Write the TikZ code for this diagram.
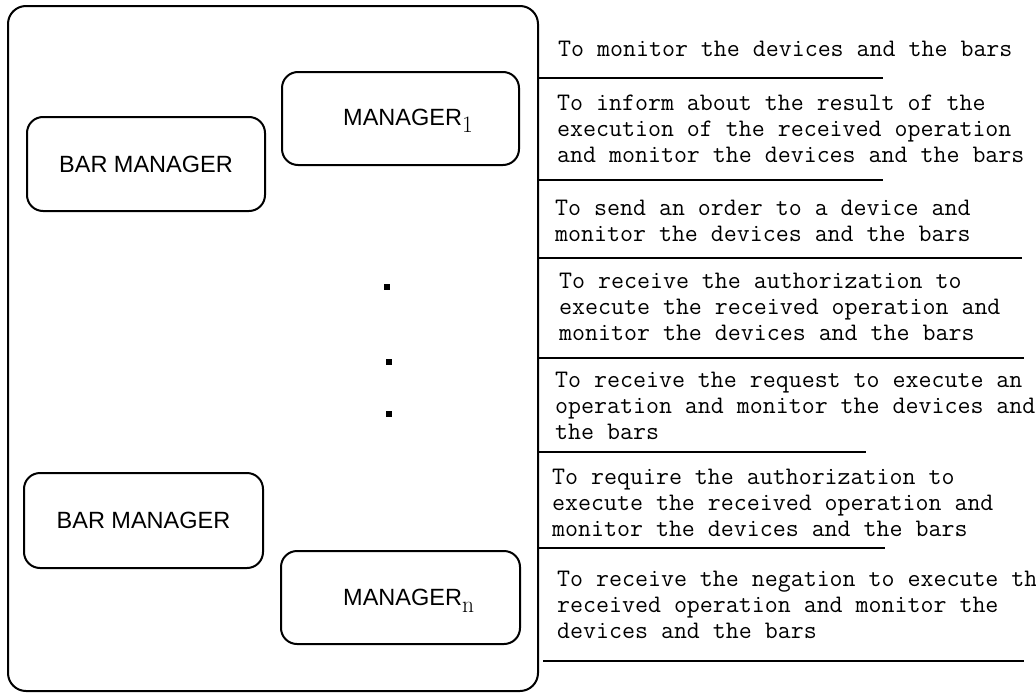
\documentclass[tikz,border=0pt]{standalone}
\usepackage{fontspec}
\setsansfont{Liberation Sans}
\begin{document}
\begin{tikzpicture}[x=1pt,y=-1pt,
  rbox/.style={draw, line width=2pt, rounded corners=16pt, inner sep=0pt, outer sep=0pt},
  lab/.style={font=\fontsize{23.5}{28}\selectfont\sffamily, inner sep=0pt},
  desc/.style={font=\fontsize{25.2}{26}\selectfont\ttfamily, align=left, inner sep=0pt, anchor=base west},
  sepline/.style={line width=2.5pt},
  dotsq/.style={fill=black, draw=none, minimum size=6pt, inner sep=0pt}]
\useasboundingbox (0,0) rectangle (1036,696);

% outer container
\node[rbox, rounded corners=18pt, minimum width=530pt, minimum height=685pt] (outer) at (273,348.5) {};

% inner boxes
\node[rbox, minimum width=238pt, minimum height=94pt] (bm1) at (146,164) {};
\node[lab] (bm1t) at (146,164) {BAR MANAGER};
\node[rbox, minimum width=239pt, minimum height=95pt] (bm2) at (143.5,520.5) {};
\node[lab] (bm2t) at (143.5,520.5) {BAR MANAGER};

\node[rbox, minimum width=237pt, minimum height=93pt] (m1) at (400.5,118.5) {};
\node[lab, anchor=base west] (m1t) at (343,125) {MANAGER\raisebox{-7pt}{\rmfamily 1}};
\node[rbox, minimum width=239pt, minimum height=93pt] (mn) at (400.5,597.5) {};
\node[lab, anchor=base west] (mnt) at (343,605) {MANAGER\raisebox{-7pt}{\rmfamily n}};

% ellipsis dots
\node[dotsq] (d1) at (387,287) {};
\node[dotsq] (d2) at (389,362) {};
\node[dotsq] (d3) at (389,414) {};

% separator lines on the right
\coordinate (s1a) at (538,78);  \coordinate (s1b) at (883,78);
\coordinate (s2a) at (538,180); \coordinate (s2b) at (883,180);
\coordinate (s3a) at (538,258); \coordinate (s3b) at (1022,258);
\coordinate (s4a) at (538,358); \coordinate (s4b) at (1024,358);
\coordinate (s5a) at (538,452); \coordinate (s5b) at (866,452);
\coordinate (s6a) at (538,548); \coordinate (s6b) at (885,548);
\coordinate (s7a) at (543,661); \coordinate (s7b) at (1024,661);
\foreach \i in {1,...,7} { \draw[sepline] (s\i a) -- (s\i b); }

% descriptions (anchor = baseline of the last line)
\node[desc] (t1) at (558,56.5) {To monitor the devices and the bars};
\node[desc] (t2) at (557,162) {To inform about the result of the\\execution of the received operation\\and monitor the devices and the bars};
\node[desc] (t3) at (555,241) {To send an order to a device and\\monitor the devices and the bars};
\node[desc] (t4) at (559,340) {To receive the authorization to\\execute the received operation and\\monitor the devices and the bars};
\node[desc] (t5) at (555,439.5) {To receive the request to execute an\\operation and monitor the devices and\\the bars};
\node[desc] (t6) at (552,536.5) {To require the authorization to\\execute the received operation and\\monitor the devices and the bars};
\node[desc] (t7) at (557,638) {To receive the negation to execute the\\received operation and monitor the\\devices and the bars};
\end{tikzpicture}
\end{document}
